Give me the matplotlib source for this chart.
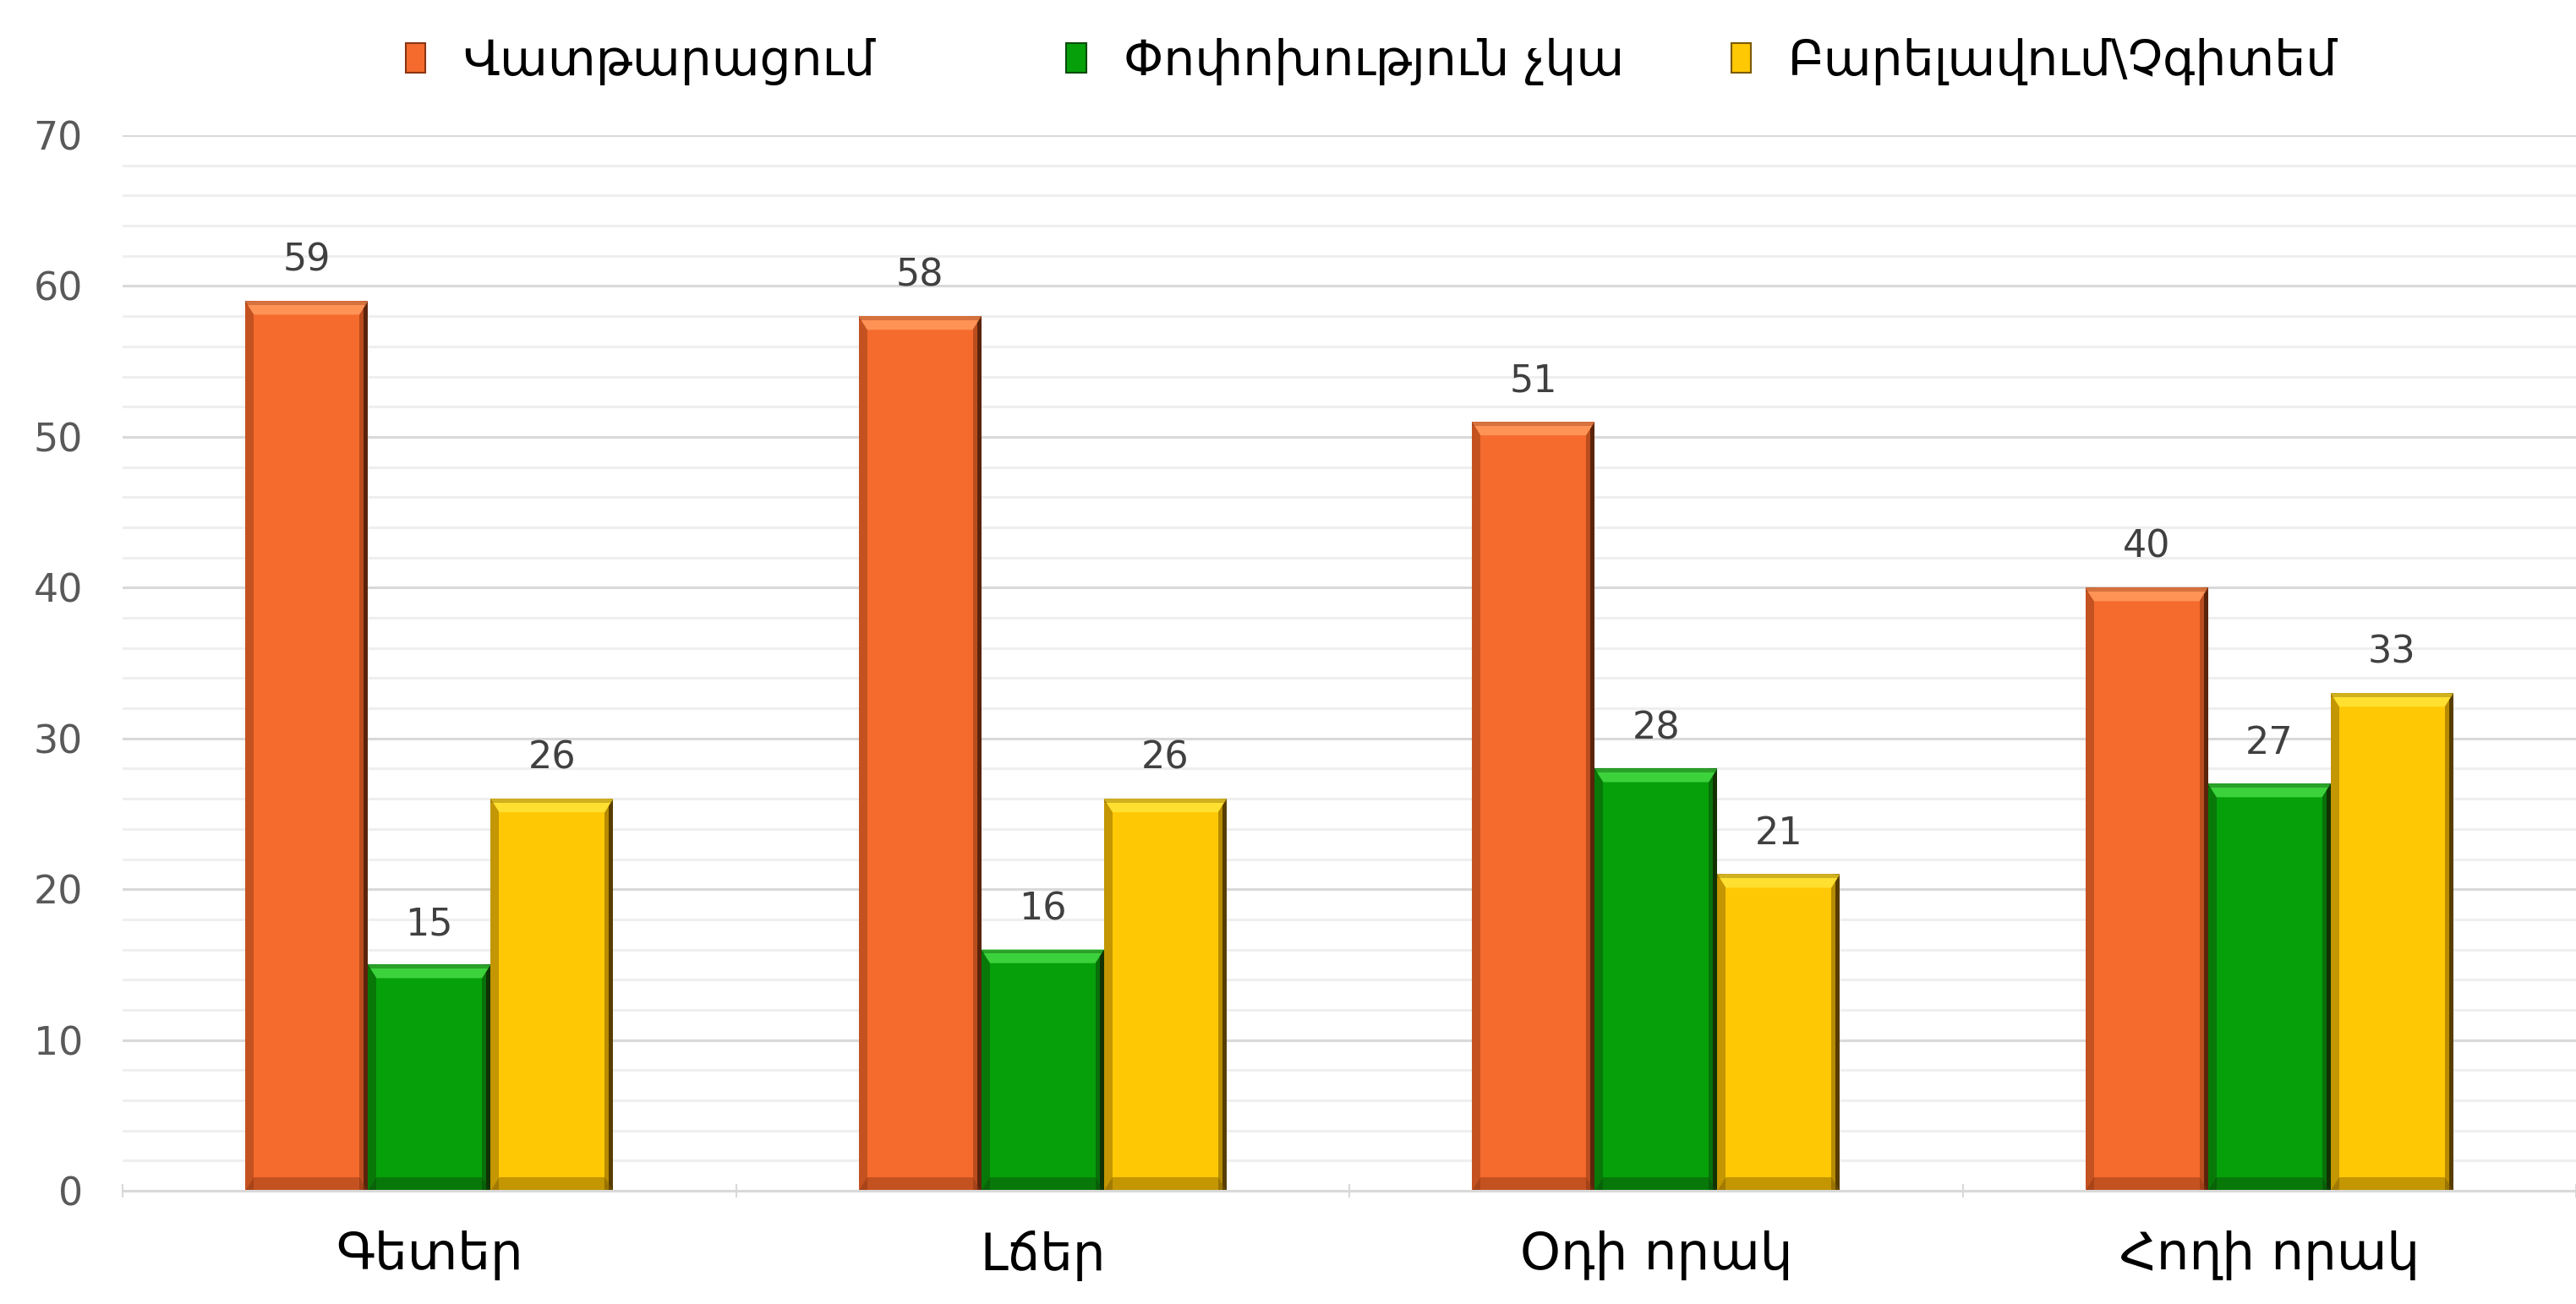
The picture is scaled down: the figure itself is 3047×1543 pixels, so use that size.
import numpy as np
import matplotlib
matplotlib.use("Agg")
from matplotlib import pyplot as plt
import matplotlib.patches as patches

plt.rcParams['font.family'] = ['DejaVu Sans']

categories = ["Գետեր", "Լճեր", "Օդի որակ", "Հողի որակ"]
series_names = ["Վատթարացում", "Փոփոխություն չկա", "Բարելավում\\Չգիտեմ"]
worse = [59, 58, 51, 40]
no_change = [15, 16, 28, 27]
better = [26, 26, 21, 33]
yticks = [0, 10, 20, 30, 40, 50, 60, 70]

colors = ["#F56B2D", "#06A00B", "#FFC805"]
light = ["#FF9355", "#3CD23C", "#FFE030"]
dark = ["#8A3512", "#0B4A08", "#7A5A00"]

fig = plt.figure(figsize=(30.47, 15.43), dpi=100)
ax = fig.add_axes([0.0476, 0.0868, 0.9524, 0.8095])

x = np.arange(len(categories))
w = 0.2
all_vals = [worse, no_change, better]

# grid: minor every 2, major every 10
for yy in range(0, 71, 2):
    if yy % 10 == 0:
        ax.axhline(yy, color="#d9d9d9", lw=2.2, zorder=0)
    else:
        ax.axhline(yy, color="#efefef", lw=2.2, zorder=0)

for i, vals in enumerate(all_vals):
    bars = ax.bar(x + (i - 1) * w, vals, w, color=colors[i], zorder=2, linewidth=0)
    for p in bars:
        bx, bw, bh = p.get_x(), p.get_width(), p.get_height()
        ex = bw * 0.07
        ey = 0.9
        # left / right shading
        ax.add_patch(patches.Rectangle((bx, 0), ex, bh, color=dark[i], alpha=0.45, lw=0, zorder=3))
        ax.add_patch(patches.Rectangle((bx + bw - ex, 0), ex, bh, color=dark[i], alpha=0.55, lw=0, zorder=3))
        ax.add_patch(patches.Rectangle((bx + bw - ex * 0.5, 0), ex * 0.5, bh, color="#1a0a00", alpha=0.6, lw=0, zorder=3))
        # top bevel
        ax.add_patch(patches.Polygon([(bx, bh), (bx + bw, bh), (bx + bw - ex, bh - ey), (bx + ex, bh - ey)],
                                     closed=True, color=light[i], lw=0, zorder=4))
        ax.add_patch(patches.Rectangle((bx, bh - 0.25), bw, 0.25, color=dark[i], alpha=0.35, lw=0, zorder=4))
        # bottom bevel
        ax.add_patch(patches.Polygon([(bx, 0), (bx + bw, 0), (bx + bw - ex, ey), (bx + ex, ey)],
                                     closed=True, color=dark[i], alpha=0.45, lw=0, zorder=4))
        ax.annotate(str(int(bh)), (bx + bw / 2, bh), xytext=(0, 19), textcoords="offset points",
                    ha="center", va="bottom", fontsize=32, color="#404040")

ax.set_ylim(0, 70)
ax.set_xlim(-0.5, len(categories) - 0.5)
ax.set_yticks(yticks)
ax.set_yticklabels([str(t) for t in yticks])
ax.set_xticks(x)
ax.set_xticklabels(categories)
ax.set_xticks(np.arange(-0.5, len(categories), 1), minor=True)
ax.tick_params(axis="y", length=0, pad=34, labelsize=33, labelcolor="#595959")
ax.tick_params(axis="x", which="major", length=0, pad=34, labelsize=44, labelcolor="#000000")
ax.tick_params(axis="x", which="minor", length=12, width=1.5, color="#d9d9d9", direction="inout")
for s in ["left", "right", "top"]:
    ax.spines[s].set_visible(False)
ax.spines["bottom"].set_color("#d9d9d9")
ax.spines["bottom"].set_linewidth(2.2)
ax.spines["bottom"].set_zorder(5)

# legend, one entry per column so columns are evenly spaced
leg_x = [0.1575, 0.414, 0.672]
for i, name in enumerate(series_names):
    h = patches.Patch(facecolor=colors[i], edgecolor=dark[i], linewidth=1.5)
    fig.legend([h], [name], loc="center left", bbox_to_anchor=(leg_x[i], 0.953), frameon=False,
               fontsize=42, handlelength=0.4, handleheight=0.55, handletextpad=0.75,
               borderpad=0, borderaxespad=0)

fig.savefig("out.png", dpi=100, facecolor="white")
